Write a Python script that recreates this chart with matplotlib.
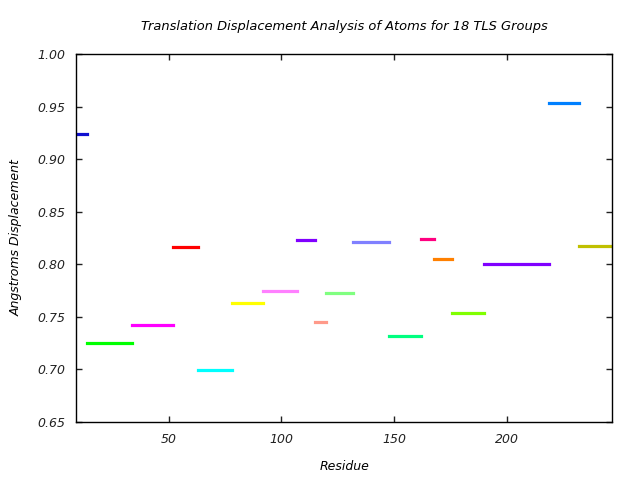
import matplotlib
matplotlib.use("Agg")
import matplotlib.pyplot as plt

starts = [9, 14, 34, 52, 63, 78, 92, 107, 115, 120, 132, 148, 162, 168, 176, 190, 219, 232]
ends = [14, 34, 52, 63, 78, 92, 107, 115, 120, 132, 148, 162, 168, 176, 190, 219, 232, 247]
values = [0.9236, 0.7248, 0.7420, 0.8162, 0.6990, 0.7630, 0.7744, 0.8228, 0.7448,
          0.7724, 0.8209, 0.7315, 0.8238, 0.8047, 0.7534, 0.8000, 0.9531, 0.8170]
colors = ["#1010d0", "#00ff00", "#ff00ff", "#ff0000", "#00ffff", "#ffff00", "#ff80ff",
          "#8000ff", "#ff9a8a", "#80ff80", "#8080ff", "#00ff80", "#ff0080", "#ff8000",
          "#80ff00", "#8000ff", "#0080ff", "#c0c000"]
xticks = [50, 100, 150, 200]
yticks = [0.65, 0.70, 0.75, 0.80, 0.85, 0.90, 0.95, 1.00]

plt.rcParams['font.family'] = ['DejaVu Sans']
fig = plt.figure(figsize=(6.4, 4.8), dpi=100)
ax = fig.add_axes([0.119, 0.121, 0.838, 0.7665])
for s, e, v, c in zip(starts, ends, values, colors):
    ax.plot([s, e], [v, v], color=c, lw=2.3, solid_capstyle='projecting')
ax.set_xlim(9, 247)
ax.set_ylim(0.65, 1.00)
ax.set_xticks(xticks)
ax.set_yticks(yticks)
ax.set_yticklabels([f"{t:.2f}" for t in yticks], fontstyle='italic', fontsize=9)
ax.set_xticklabels([str(t) for t in xticks], fontstyle='italic', fontsize=9)
ax.tick_params(direction='in', length=4, width=1, top=True, right=True, pad=8, colors='#222222', labelcolor='#222222')
for sp in ax.spines.values():
    sp.set_linewidth(1)
ax.set_title("Translation Displacement Analysis of Atoms for 18 TLS Groups", fontstyle='italic', fontsize=9.4, pad=17)
ax.set_xlabel("Residue", fontstyle='italic', fontsize=9, labelpad=10)
ax.set_ylabel("Angstroms Displacement", fontstyle='italic', fontsize=9, labelpad=10)
fig.savefig("out.png", dpi=100)
